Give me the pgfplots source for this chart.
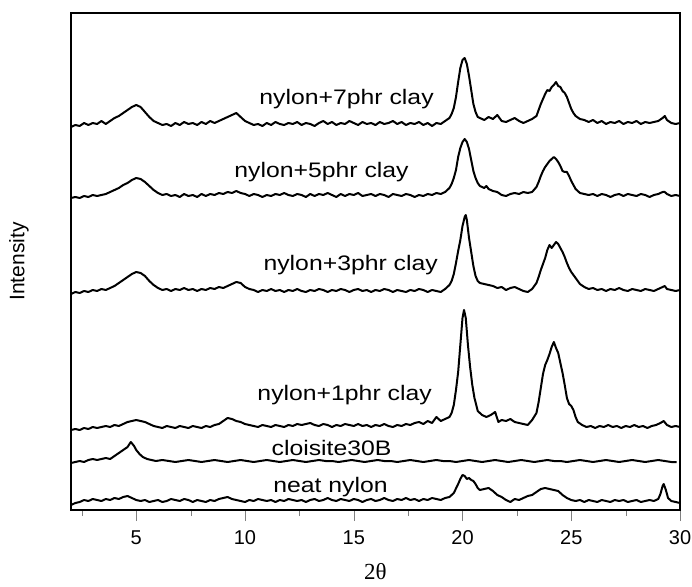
\documentclass[border=0pt]{standalone}
\usepackage{pgfplots}
\pgfplotsset{compat=1.18}
\usepackage{fontspec}
\setmainfont{Liberation Sans}
\newfontfamily\seriffont{Liberation Serif}
\tikzset{lbl/.style={anchor=base, font=\fontsize{21}{25}\selectfont, xscale=1.18},
 crv/.style={black, solid, line width=2pt, line join=round, mark=none}}
\begin{document}
\begin{tikzpicture}
\useasboundingbox (-71pt,-76pt) rectangle (621pt,510pt);
\begin{axis}[
 at={(0pt,0pt)}, anchor=south west,
 width=609pt, height=497pt, scale only axis,
 xmin=2, xmax=30, ymin=0, ymax=497,
 xtick={5,10,...,30}, minor xtick={2.5,7.5,...,27.5},
 ytick=\empty,
 tick pos=left,
 tick align=outside,
 major tick length=11pt, minor tick length=6pt,
 line width=1.3pt,
 ticklabel style={font=\fontsize{20}{24}\selectfont},
 xticklabel style={yshift=-6pt},
 /pgf/number format/assume math mode=true,
 xlabel={{\seriffont 2θ}},
 xlabel style={at={(axis description cs:0.5,-0.124)}, anchor=center, font=\fontsize{23}{27}\selectfont},
 ylabel={Intensity},
 ylabel style={at={(axis description cs:-0.0854,0.5)}, anchor=center, font=\fontsize{21}{25}\selectfont},
]
% nylon+7phr clay
\addplot[crv] coordinates {
(2.0,383)(2.2,385)(2.4,384)(2.6,387)(2.8,385)(3.0,387)(3.2,386)(3.4,389)(3.6,386)(3.8,389)
(4.0,392)(4.2,394)(4.4,397)(4.6,400)(4.8,403)(5.0,405)(5.2,403)(5.4,398)(5.6,393)(5.8,389)
(6.0,387)(6.2,385)(6.4,386)(6.6,384)(6.8,387)(7.0,385)(7.2,388)(7.4,386)(7.6,387)(7.8,385)
(8.0,388)(8.2,386)(8.4,389)(8.6,387)(8.8,389)(9.0,391)(9.2,393)(9.4,395)(9.6,397)(9.8,393)
(10.0,389)(10.2,387)(10.4,385)(10.6,386)(10.8,384)(11.0,387)(11.2,385)(11.4,388)(11.6,386)(11.8,385)
(12.0,387)(12.2,386)(12.4,388)(12.6,385)(12.8,387)(13.0,386)(13.2,384)(13.4,387)(13.6,389)(13.8,386)
(14.0,388)(14.2,385)(14.4,387)(14.6,386)(14.8,389)(15.0,387)(15.2,385)(15.4,388)(15.6,386)(15.8,387)
(16.0,385)(16.2,388)(16.4,386)(16.6,387)(16.8,389)(17.0,386)(17.2,388)(17.4,385)(17.6,387)(17.8,386)
(18.0,388)(18.2,385)(18.4,387)(18.6,384)(18.8,387)(19.0,386)(19.2,389)(19.4,392)(19.5,396)(19.6,402)
(19.7,413)(19.8,428)(19.9,442)(20.0,450)(20.1,452)(20.2,446)(20.3,434)(20.4,420)(20.5,406)(20.6,398)
(20.7,393)(20.8,392)(21.0,390)(21.2,393)(21.4,391)(21.6,395)(21.8,389)(22.0,388)(22.2,390)(22.4,392)
(22.6,389)(22.8,387)(23.0,389)(23.2,391)(23.4,394)(23.5,400)(23.6,406)(23.7,411)(23.8,416)(23.9,420)
(24.0,419)(24.1,423)(24.2,425)(24.3,428)(24.4,424)(24.5,423)(24.6,419)(24.7,417)(24.8,413)(24.9,407)
(25.0,401)(25.1,397)(25.2,394)(25.4,391)(25.6,390)(25.8,388)(26.0,390)(26.2,387)(26.4,389)(26.6,386)
(26.8,388)(27.0,387)(27.2,389)(27.4,386)(27.6,388)(27.8,387)(28.0,389)(28.2,386)(28.4,388)(28.6,387)
(28.8,388)(29.0,389)(29.2,392)(29.3,394)(29.4,390)(29.6,387)(29.8,386)(30.0,387)
};
% nylon+5phr clay
\addplot[crv] coordinates {
(2.0,312)(2.2,313)(2.4,312)(2.6,314)(2.8,313)(3.0,315)(3.2,314)(3.4,315)(3.6,316)(3.8,318)
(4.0,320)(4.2,322)(4.4,325)(4.6,327)(4.8,330)(5.0,332)(5.2,331)(5.4,328)(5.6,324)(5.8,320)
(6.0,317)(6.2,315)(6.4,316)(6.6,314)(6.8,315)(7.0,313)(7.2,316)(7.4,314)(7.6,315)(7.8,313)
(8.0,316)(8.2,314)(8.4,316)(8.6,315)(8.8,317)(9.0,316)(9.2,318)(9.4,317)(9.6,319)(9.8,317)
(10.0,316)(10.2,314)(10.4,316)(10.6,315)(10.8,313)(11.0,315)(11.2,314)(11.4,316)(11.6,315)(11.8,317)
(12.0,315)(12.2,314)(12.4,316)(12.6,315)(12.8,313)(13.0,316)(13.2,314)(13.4,316)(13.6,315)(13.8,317)
(14.0,315)(14.2,313)(14.4,316)(14.6,314)(14.8,316)(15.0,315)(15.2,317)(15.4,314)(15.6,315)(15.8,316)
(16.0,314)(16.2,316)(16.4,315)(16.6,313)(16.8,316)(17.0,315)(17.2,314)(17.4,316)(17.6,315)(17.8,313)
(18.0,315)(18.2,314)(18.4,316)(18.6,315)(18.8,317)(19.0,316)(19.2,318)(19.4,322)(19.5,326)(19.6,332)
(19.7,340)(19.8,353)(19.9,362)(20.0,368)(20.1,371)(20.2,368)(20.3,361)(20.4,350)(20.5,339)(20.6,332)
(20.7,327)(20.8,324)(21.0,322)(21.1,324)(21.2,321)(21.4,319)(21.6,318)(21.8,315)(22.0,314)(22.2,316)
(22.4,317)(22.6,316)(22.8,318)(23.0,317)(23.2,318)(23.4,323)(23.5,328)(23.6,334)(23.7,339)(23.8,343)
(23.9,346)(24.0,349)(24.1,351)(24.2,353)(24.3,351)(24.4,348)(24.5,344)(24.6,339)(24.7,338)(24.8,338)
(24.9,334)(25.0,329)(25.1,325)(25.2,321)(25.4,317)(25.6,316)(25.8,315)(26.0,316)(26.2,314)(26.4,316)
(26.6,315)(26.8,313)(27.0,315)(27.2,316)(27.4,314)(27.6,316)(27.8,315)(28.0,314)(28.2,316)(28.4,315)
(28.6,313)(28.8,315)(29.0,316)(29.2,318)(29.3,318)(29.4,316)(29.6,314)(29.8,315)(30.0,314)
};
% nylon+3phr clay
\addplot[crv] coordinates {
(2.0,216)(2.2,218)(2.4,217)(2.6,219)(2.8,218)(3.0,220)(3.2,219)(3.4,221)(3.6,220)(3.8,222)
(4.0,224)(4.2,227)(4.4,230)(4.6,233)(4.8,236)(5.0,238)(5.2,237)(5.4,234)(5.6,229)(5.8,225)
(6.0,222)(6.2,220)(6.4,221)(6.6,219)(6.8,221)(7.0,220)(7.2,222)(7.4,220)(7.6,221)(7.8,219)
(8.0,221)(8.2,220)(8.4,222)(8.6,221)(8.8,223)(9.0,222)(9.2,224)(9.4,226)(9.6,228)(9.8,227)
(10.0,223)(10.2,221)(10.4,220)(10.6,218)(10.8,220)(11.0,219)(11.2,221)(11.4,219)(11.6,220)(11.8,218)
(12.0,220)(12.2,219)(12.4,221)(12.6,219)(12.8,218)(13.0,220)(13.2,219)(13.4,221)(13.6,220)(13.8,218)
(14.0,220)(14.2,219)(14.4,221)(14.6,220)(14.8,218)(15.0,220)(15.2,221)(15.4,219)(15.6,220)(15.8,218)
(16.0,220)(16.2,219)(16.4,221)(16.6,220)(16.8,218)(17.0,220)(17.2,219)(17.4,218)(17.6,220)(17.8,219)
(18.0,221)(18.2,220)(18.4,218)(18.6,220)(18.8,219)(19.0,218)(19.2,221)(19.4,225)(19.5,229)(19.6,236)
(19.7,247)(19.8,259)(19.9,270)(20.0,284)(20.1,293)(20.15,295)(20.2,290)(20.3,272)(20.4,258)(20.5,244)
(20.6,234)(20.7,229)(20.8,227)(21.0,226)(21.2,225)(21.4,224)(21.6,222)(21.8,223)(22.0,220)(22.2,222)
(22.4,223)(22.6,221)(22.8,219)(23.0,218)(23.2,221)(23.4,227)(23.5,233)(23.6,240)(23.7,246)(23.8,252)
(23.9,260)(24.0,265)(24.1,262)(24.2,265)(24.3,268)(24.4,266)(24.5,262)(24.6,258)(24.7,253)(24.8,247)
(24.9,242)(25.0,238)(25.1,235)(25.2,232)(25.3,229)(25.4,226)(25.6,223)(25.8,221)(26.0,222)(26.2,220)
(26.4,221)(26.6,219)(26.8,221)(27.0,220)(27.2,222)(27.4,220)(27.6,219)(27.8,221)(28.0,220)(28.2,219)
(28.4,221)(28.6,220)(28.8,219)(29.0,221)(29.2,223)(29.3,224)(29.4,221)(29.6,220)(29.8,219)(30.0,220)
};
% nylon+1phr clay
\addplot[crv] coordinates {
(2.0,80)(2.2,81)(2.4,80)(2.6,82)(2.8,81)(3.0,83)(3.2,82)(3.4,83)(3.6,84)(3.8,83)
(4.0,85)(4.2,84)(4.4,86)(4.6,88)(4.8,89)(5.0,90)(5.2,89)(5.4,88)(5.6,86)(5.8,84)
(6.0,83)(6.2,82)(6.4,84)(6.6,83)(6.8,82)(7.0,84)(7.2,83)(7.4,82)(7.6,84)(7.8,83)
(8.0,82)(8.2,84)(8.4,83)(8.6,85)(8.8,86)(9.0,89)(9.2,92)(9.4,91)(9.6,89)(9.8,88)
(10.0,86)(10.2,85)(10.4,84)(10.6,83)(10.8,85)(11.0,84)(11.2,83)(11.4,85)(11.6,84)(11.8,83)
(12.0,85)(12.2,84)(12.4,86)(12.6,85)(12.8,86)(13.0,87)(13.2,85)(13.4,84)(13.6,86)(13.8,85)
(14.0,83)(14.2,85)(14.4,84)(14.6,86)(14.8,85)(15.0,84)(15.2,86)(15.4,84)(15.6,85)(15.8,83)
(16.0,85)(16.2,84)(16.4,86)(16.6,84)(16.8,83)(17.0,85)(17.2,84)(17.4,86)(17.6,85)(17.8,87)
(18.0,88)(18.2,86)(18.4,89)(18.6,87)(18.8,93)(19.0,89)(19.2,91)(19.4,93)(19.5,97)(19.6,105)
(19.7,120)(19.8,138)(19.9,165)(20.0,192)(20.07,200)(20.15,192)(20.25,165)(20.35,143)(20.45,125)(20.55,112)
(20.7,99)(20.9,95)(21.1,93)(21.3,95)(21.5,98)(21.65,88)(21.8,90)(22.0,89)(22.2,91)(22.4,88)
(22.6,87)(22.8,86)(23.0,85)(23.2,90)(23.4,97)(23.5,108)(23.6,122)(23.7,136)(23.8,145)(23.9,150)
(24.0,156)(24.1,163)(24.2,168)(24.3,162)(24.4,157)(24.5,147)(24.6,137)(24.7,125)(24.8,112)(24.9,106)
(25.0,104)(25.1,100)(25.2,93)(25.3,88)(25.5,85)(25.7,83)(25.9,84)(26.1,82)(26.3,84)(26.5,83)
(26.7,85)(26.9,83)(27.1,84)(27.3,82)(27.5,84)(27.7,83)(27.9,85)(28.1,83)(28.3,84)(28.5,82)
(28.7,84)(28.9,85)(29.1,87)(29.25,89)(29.4,85)(29.6,83)(29.8,84)(30.0,83)
};
% cloisite30B
\addplot[crv] coordinates {
(2.0,47)(2.2,48)(2.4,49)(2.6,48)(2.8,50)(3.0,51)(3.2,50)(3.4,51)(3.6,52)(3.8,51)
(4.0,54)(4.2,57)(4.4,60)(4.6,63)(4.75,68)(4.9,64)(5.0,60)(5.15,56)(5.3,53)(5.5,51)
(5.7,50)(5.9,49)(6.2,50)(6.5,49)(6.8,48)(7.1,49)(7.4,50)(7.7,49)(8.0,48)(8.3,49)
(8.6,50)(8.9,49)(9.2,48)(9.5,49)(9.8,50)(10.1,49)(10.4,48)(10.7,49)(11.0,50)(11.3,49)
(11.6,48)(11.9,49)(12.2,50)(12.5,49)(12.8,48)(13.1,49)(13.4,50)(13.7,49)(14.0,49)(14.3,48)
(14.6,49)(14.9,50)(15.2,49)(15.5,48)(15.8,49)(16.1,50)(16.4,49)(16.7,49)(17.0,48)(17.3,49)
(17.6,50)(17.9,49)(18.2,48)(18.5,49)(18.8,50)(19.1,49)(19.4,49)(19.7,48)(20.0,49)(20.3,50)
(20.6,49)(20.9,48)(21.2,49)(21.5,50)(21.8,49)(22.1,48)(22.4,49)(22.7,50)(23.0,49)(23.3,48)
(23.6,49)(23.9,50)(24.2,49)(24.5,49)(24.8,48)(25.1,49)(25.4,50)(25.7,49)(26.0,48)(26.3,49)
(26.6,50)(26.9,49)(27.2,48)(27.5,49)(27.8,50)(28.1,49)(28.4,48)(28.7,49)(29.0,50)(29.3,49)
(29.6,48)(29.85,48)
};
% neat nylon
\addplot[crv] coordinates {
(2.0,5)(2.2,7)(2.4,8)(2.6,10)(2.8,9)(3.0,11)(3.2,10)(3.4,9)(3.6,11)(3.8,10)
(4.0,12)(4.2,11)(4.4,13)(4.6,14)(4.8,12)(5.0,10)(5.2,9)(5.4,10)(5.6,8)(5.8,9)
(6.0,10)(6.2,8)(6.4,9)(6.6,11)(6.8,10)(7.0,9)(7.2,11)(7.4,10)(7.6,8)(7.8,10)
(8.0,9)(8.2,8)(8.4,10)(8.6,9)(8.8,11)(9.0,12)(9.2,13)(9.4,11)(9.6,10)(9.8,9)
(10.0,8)(10.2,10)(10.4,9)(10.6,11)(10.8,10)(11.0,9)(11.2,10)(11.4,8)(11.6,10)(11.8,9)
(12.0,11)(12.2,10)(12.4,9)(12.6,10)(12.8,8)(13.0,10)(13.2,11)(13.4,9)(13.6,10)(13.8,12)
(14.0,10)(14.2,9)(14.4,11)(14.6,10)(14.8,9)(15.0,11)(15.2,10)(15.4,8)(15.6,10)(15.8,11)
(16.0,9)(16.2,10)(16.4,12)(16.6,10)(16.8,9)(17.0,11)(17.2,10)(17.4,12)(17.6,10)(17.8,11)
(18.0,9)(18.2,11)(18.4,10)(18.6,12)(18.8,11)(19.0,10)(19.2,12)(19.4,13)(19.6,17)(19.8,26)
(19.9,31)(20.0,35)(20.1,34)(20.2,31)(20.3,32)(20.4,30)(20.5,29)(20.6,26)(20.7,22)(20.8,20)
(21.0,21)(21.2,22)(21.4,19)(21.6,15)(21.8,13)(22.0,10)(22.2,8)(22.4,11)(22.6,10)(22.8,12)
(23.0,14)(23.2,15)(23.4,18)(23.6,21)(23.8,22)(24.0,21)(24.2,20)(24.4,19)(24.6,15)(24.8,12)
(25.0,10)(25.2,9)(25.4,10)(25.6,8)(25.8,10)(26.0,9)(26.2,8)(26.4,10)(26.6,9)(26.8,8)
(27.0,10)(27.2,9)(27.4,10)(27.6,8)(27.8,9)(28.0,10)(28.2,8)(28.4,9)(28.6,10)(28.8,9)
(29.0,11)(29.1,16)(29.2,24)(29.25,26)(29.35,20)(29.45,12)(29.6,9)(29.8,8)(30.0,7)
};
\node[lbl] at (axis cs:14.67,405) {nylon+7phr clay};
\node[lbl] at (axis cs:13.52,332) {nylon+5phr clay};
\node[lbl] at (axis cs:14.86,239) {nylon+3phr clay};
\node[lbl] at (axis cs:14.58,110) {nylon+1phr clay};
\node[lbl] at (axis cs:13.98,55) {cloisite30B};
\node[lbl] at (axis cs:13.93,18) {neat nylon};
\end{axis}
\end{tikzpicture}
\end{document}
